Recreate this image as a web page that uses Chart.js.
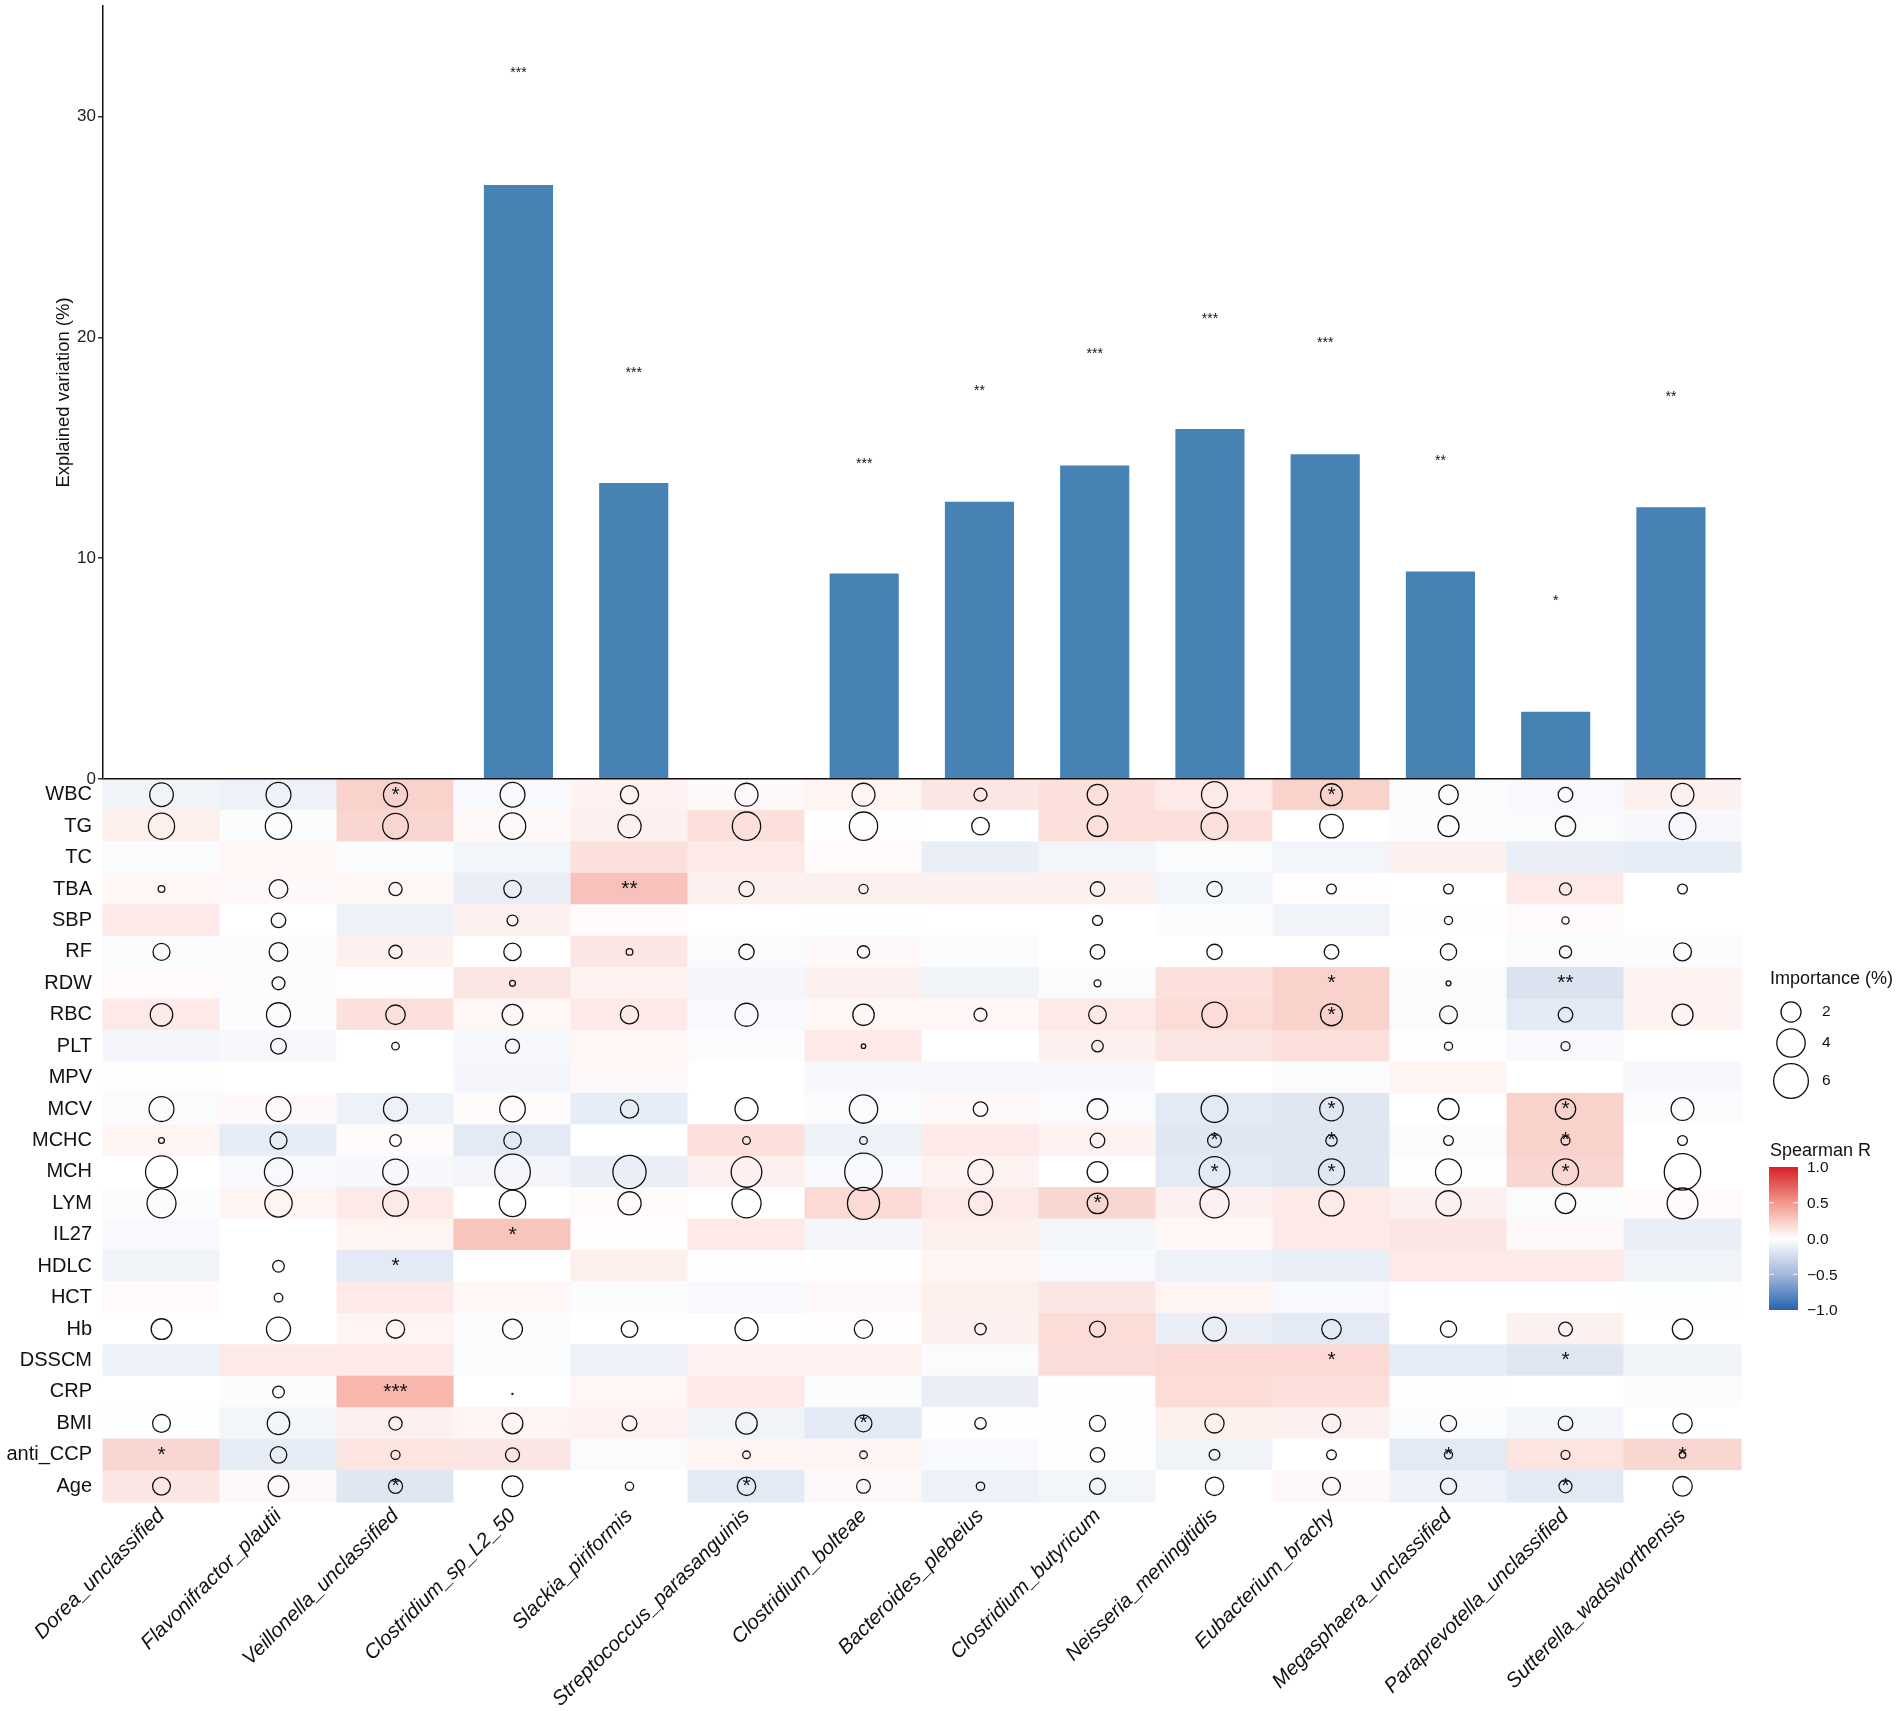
<!DOCTYPE html>
<html>
<head>
<meta charset="utf-8">
<title>Explained variation and Spearman R</title>
<script src="https://cdn.jsdelivr.net/npm/chart.js@4.4.1/dist/chart.umd.min.js"></script>
<style>
  html, body { margin: 0; padding: 0; background: #fff; }
  #wrap { position: relative; width: 1902px; height: 1711px; }
</style>
</head>
<body>
<div id="wrap"><canvas id="chart"></canvas></div>
<script>
// ---- data ----
const species = ['Dorea_unclassified', 'Flavonifractor_plautii', 'Veillonella_unclassified',
  'Clostridium_sp_L2_50', 'Slackia_piriformis', 'Streptococcus_parasanguinis', 'Clostridium_bolteae',
  'Bacteroides_plebeius', 'Clostridium_butyricum', 'Neisseria_meningitidis', 'Eubacterium_brachy',
  'Megasphaera_unclassified', 'Paraprevotella_unclassified', 'Sutterella_wadsworthensis'];

const explained = [0, 0, 0, 26.9, 13.4, 0, 9.3, 12.55, 14.2, 15.85, 14.7, 9.4, 3.05, 12.3];
const barSig = ['', '', '', '***', '***', '', '***', '**', '***', '***', '***', '**', '*', '**'];
const sigY = [null, null, null, 32.1, 18.55, null, 14.4, 17.7, 19.4, 21.0, 19.9, 14.55, 8.2, 17.45];
const yTicks = [0, 10, 20, 30];

const clinical = ['WBC', 'TG', 'TC', 'TBA', 'SBP', 'RF', 'RDW', 'RBC', 'PLT', 'MPV', 'MCV', 'MCHC',
  'MCH', 'LYM', 'IL27', 'HDLC', 'HCT', 'Hb', 'DSSCM', 'CRP', 'BMI', 'anti_CCP', 'Age'];

// Spearman R, one row per clinical variable, columns in species order
const spearmanR = [
  [-0.08, -0.10, 0.22, -0.04, 0.06, 0.03, 0.05, 0.12, 0.15, 0.10, 0.22, -0.02, -0.04, 0.07], // WBC
  [0.08, -0.02, 0.20, 0.03, 0.07, 0.15, 0.01, 0.00, 0.15, 0.15, 0.00, -0.02, -0.03, -0.05],  // TG
  [-0.03, 0.04, -0.02, -0.07, 0.15, 0.10, 0.02, -0.12, -0.07, -0.03, -0.07, 0.07, -0.12, -0.13], // TC
  [0.04, 0.03, 0.04, -0.12, 0.30, 0.07, 0.07, 0.07, 0.07, -0.07, 0.01, 0.00, 0.10, 0.00],   // TBA
  [0.10, 0.00, -0.10, 0.07, 0.02, 0.00, -0.01, 0.00, 0.00, -0.02, -0.08, 0.01, 0.02, 0.00], // SBP
  [-0.03, -0.02, 0.07, 0.00, 0.12, -0.03, 0.03, -0.02, 0.00, 0.00, 0.00, 0.00, -0.03, -0.02], // RF
  [0.02, -0.02, 0.01, 0.12, 0.06, -0.06, 0.07, -0.08, -0.03, 0.15, 0.22, -0.03, -0.20, 0.06], // RDW
  [0.10, -0.02, 0.15, 0.04, 0.10, -0.04, 0.04, 0.04, 0.10, 0.17, 0.22, -0.03, -0.15, 0.06], // RBC
  [-0.06, -0.05, 0.00, -0.05, 0.04, -0.02, 0.10, 0.00, 0.07, 0.12, 0.15, 0.01, -0.04, 0.00], // PLT
  [0.01, 0.00, 0.00, -0.06, 0.03, 0.00, -0.05, -0.05, -0.05, 0.00, -0.03, 0.05, 0.00, -0.05], // MPV
  [-0.03, 0.03, -0.10, 0.02, -0.13, 0.00, -0.03, 0.03, -0.03, -0.15, -0.17, 0.00, 0.22, -0.02], // MCV
  [0.05, -0.13, 0.02, -0.15, 0.00, 0.15, -0.10, 0.10, 0.06, -0.17, -0.17, -0.03, 0.22, 0.00], // MCHC
  [0.00, -0.04, -0.05, -0.06, -0.12, 0.07, -0.04, 0.06, 0.00, -0.15, -0.17, -0.01, 0.20, 0.00], // MCH
  [-0.02, 0.05, 0.10, 0.00, 0.02, 0.00, 0.18, 0.10, 0.20, 0.07, 0.10, 0.07, -0.03, 0.02],  // LYM
  [-0.04, 0.00, 0.05, 0.28, 0.01, 0.10, -0.06, 0.08, -0.07, 0.04, 0.10, 0.12, 0.03, -0.12], // IL27
  [-0.08, 0.00, -0.15, 0.00, 0.08, 0.01, -0.01, 0.05, -0.04, -0.10, -0.12, 0.10, 0.10, -0.08], // HDLC
  [0.02, 0.00, 0.10, 0.04, -0.02, -0.04, 0.03, 0.08, 0.12, 0.05, -0.04, 0.00, 0.00, -0.01], // HCT
  [0.00, 0.00, 0.05, -0.02, 0.00, 0.00, 0.01, 0.07, 0.17, -0.12, -0.15, 0.00, 0.07, 0.00],  // Hb
  [-0.10, 0.10, 0.10, -0.03, -0.10, 0.06, 0.06, -0.03, 0.16, 0.18, 0.18, -0.13, -0.17, -0.08], // DSSCM
  [0.00, -0.02, 0.35, 0.00, 0.04, 0.10, -0.02, -0.12, 0.01, 0.17, 0.15, 0.01, 0.00, -0.02], // CRP
  [-0.01, -0.07, 0.07, 0.05, 0.06, -0.08, -0.15, 0.01, 0.01, 0.08, 0.07, -0.02, -0.07, 0.00], // BMI
  [0.20, -0.13, 0.13, 0.12, -0.03, 0.05, 0.05, -0.04, 0.01, -0.08, 0.00, -0.15, 0.13, 0.20], // anti_CCP
  [0.12, 0.03, -0.17, 0.00, 0.00, -0.15, 0.03, -0.10, -0.07, 0.00, 0.03, -0.10, -0.15, 0.00]  // Age
];

// Importance (%), null = no circle
const importance = [
  [2.77, 3.07, 2.87, 3.07, 1.65, 2.62, 2.62, 0.84, 2.12, 3.37, 2.39, 1.89, 1.06, 2.57], // WBC
  [3.40, 3.45, 3.25, 3.45, 2.67, 3.98, 3.98, 1.54, 2.12, 3.57, 2.75, 2.21, 2.05, 3.57], // TG
  [null, null, null, null, null, null, null, null, null, null, null, null, null, null], // TC
  [0.22, 1.73, 0.87, 1.50, null, 1.16, 0.42, null, 1.05, 1.16, 0.47, 0.47, 0.74, 0.47], // TBA
  [null, 1.04, null, 0.58, null, null, null, null, 0.49, null, null, 0.33, 0.26, null], // SBP
  [1.43, 1.73, 0.87, 1.50, 0.22, 1.16, 0.75, null, 1.05, 1.16, 1.06, 1.31, 0.74, 1.58], // RF
  [null, 0.82, null, 0.17, null, null, null, null, 0.24, null, null, 0.12, null, null], // RDW
  [2.50, 2.87, 1.89, 2.13, 1.65, 2.62, 2.28, 0.84, 1.54, 3.17, 2.39, 1.58, 1.06, 2.21], // RBC
  [null, 1.23, 0.28, 0.98, null, null, 0.10, null, 0.65, null, null, 0.33, 0.40, null], // PLT
  [null, null, null, null, null, null, null, null, null, null, null, null, null, null], // MPV
  [3.07, 3.07, 2.87, 3.25, 1.65, 2.62, 3.98, 1.05, 2.12, 3.57, 2.75, 2.21, 2.05, 2.57], // MCV
  [0.17, 1.43, 0.67, 1.50, null, 0.29, 0.29, null, 1.05, 0.95, 0.64, 0.47, 0.40, 0.47], // MCHC
  [5.06, 3.95, 3.25, 6.30, 5.46, 4.66, 7.00, 3.17, 2.12, 4.66, 3.35, 3.35, 3.35, 6.60], // MCH
  [4.17, 3.70, 3.25, 3.45, 2.67, 4.20, 5.13, 2.80, 2.12, 4.20, 3.15, 3.15, 2.05, 4.70], // LYM
  [null, null, null, null, null, null, null, null, null, null, null, null, null, null], // IL27
  [null, 0.67, null, null, null, null, null, null, null, null, null, null, null, null], // HDLC
  [null, 0.37, null, null, null, null, null, null, null, null, null, null, null, null], // HCT
  [2.13, 2.87, 1.65, 1.97, 1.37, 2.62, 1.68, 0.65, 1.28, 2.80, 1.89, 1.31, 0.95, 2.05], // Hb
  [null, null, null, null, null, null, null, null, null, null, null, null, null, null], // DSSCM
  [null, 0.67, null, null, null, null, null, null, null, null, null, null, null, null], // CRP
  [1.57, 2.50, 0.87, 2.13, 1.10, 2.28, 1.41, 0.65, 1.28, 1.82, 1.73, 1.31, 1.06, 1.89], // BMI
  [null, 1.37, 0.41, 0.98, null, 0.29, 0.29, null, 1.05, 0.57, 0.47, 0.33, 0.40, 0.21], // anti_CCP
  [1.57, 2.13, 0.98, 2.13, 0.34, 1.68, 0.95, 0.35, 1.28, 1.68, 1.58, 1.31, 0.84, 1.89]  // Age
];

// significance marks inside the heatmap: [row, species, mark]
const cellSig = [
  ['WBC', 'Veillonella_unclassified', '*'], ['WBC', 'Eubacterium_brachy', '*'],
  ['TBA', 'Slackia_piriformis', '**'],
  ['RDW', 'Eubacterium_brachy', '*'], ['RDW', 'Paraprevotella_unclassified', '**'],
  ['RBC', 'Eubacterium_brachy', '*'],
  ['MCV', 'Eubacterium_brachy', '*'], ['MCV', 'Paraprevotella_unclassified', '*'],
  ['MCHC', 'Neisseria_meningitidis', '*'], ['MCHC', 'Eubacterium_brachy', '*'], ['MCHC', 'Paraprevotella_unclassified', '*'],
  ['MCH', 'Neisseria_meningitidis', '*'], ['MCH', 'Eubacterium_brachy', '*'], ['MCH', 'Paraprevotella_unclassified', '*'],
  ['LYM', 'Clostridium_butyricum', '*'],
  ['IL27', 'Clostridium_sp_L2_50', '*'],
  ['HDLC', 'Veillonella_unclassified', '*'],
  ['DSSCM', 'Eubacterium_brachy', '*'], ['DSSCM', 'Paraprevotella_unclassified', '*'],
  ['CRP', 'Veillonella_unclassified', '***'], ['CRP', 'Clostridium_sp_L2_50', '.'],
  ['BMI', 'Clostridium_bolteae', '*'],
  ['anti_CCP', 'Dorea_unclassified', '*'], ['anti_CCP', 'Megasphaera_unclassified', '*'], ['anti_CCP', 'Sutterella_wadsworthensis', '*'],
  ['Age', 'Veillonella_unclassified', '*'], ['Age', 'Streptococcus_parasanguinis', '*'], ['Age', 'Paraprevotella_unclassified', '*']
];

const sizeBreaks = [2, 4, 6];
const colorBreaks = [1, 0.5, 0, -0.5, -1];
const colorBreakLabels = ['1.0', '0.5', '0.0', '\u22120.5', '\u22121.0'];

// ---- helpers ----
const FONT = '"Liberation Sans", Arial, Helvetica, sans-serif';
Chart.defaults.font.family = FONT;

const HIGH = [214, 32, 39], MIDHI = [243, 152, 138];
const LOW = [38, 100, 175], MIDLO = [164, 184, 220];
function rColor(r) {
  const t = Math.min(Math.abs(r), 1);
  const mid = r >= 0 ? MIDHI : MIDLO;
  const end = r >= 0 ? HIGH : LOW;
  let c;
  if (t <= 0.5) {
    const k = t / 0.5;
    c = mid.map(m => 255 + (m - 255) * k);
  } else {
    const k = (t - 0.5) / 0.5;
    c = mid.map((m, i) => m + (end[i] - m) * k);
  }
  return 'rgb(' + c.map(Math.round).join(',') + ')';
}

const sizeToRadius = v => 7.1 * Math.sqrt(v);

const bubbles = [];
clinical.forEach((row, i) => {
  species.forEach((sp, j) => {
    const v = importance[i][j];
    if (v != null) bubbles.push({ x: sp, y: row, r: sizeToRadius(v) });
  });
});

// in the source figure the bar panel is a touch narrower than the heatmap,
// so the bars sit on their own (hidden) index axis
const barPoints = explained.map((v, j) => ({ x: j, y: v }));

// tiles of the heatmap, placed with the chart's own scales
const heatmapCells = {
  id: 'heatmapCells',
  beforeDatasetsDraw(chart) {
    const { ctx, scales: { x, hm } } = chart;
    const cw = Math.abs(x.getPixelForValue(1) - x.getPixelForValue(0));
    const ch = Math.abs(hm.getPixelForValue(1) - hm.getPixelForValue(0));
    ctx.save();
    clinical.forEach((row, i) => {
      const cy = hm.getPixelForValue(i);
      species.forEach((sp, j) => {
        const cx = x.getPixelForValue(j);
        ctx.fillStyle = rColor(spearmanR[i][j]);
        ctx.fillRect(cx - cw / 2 - 0.5, cy - ch / 2 - 0.5, cw + 1, ch + 1);
      });
    });
    ctx.restore();
  }
};

const sigLabels = {
  id: 'sigLabels',
  afterDatasetsDraw(chart) {
    const { ctx, scales: { x, xb, y, hm } } = chart;
    ctx.save();
    ctx.fillStyle = '#111';
    ctx.textAlign = 'center';
    ctx.textBaseline = 'middle';
    ctx.font = '14px ' + FONT;
    barSig.forEach((s, j) => {
      if (!s) return;
      ctx.fillText(s, xb.getPixelForValue(j), y.getPixelForValue(sigY[j]) + 3.5);
    });
    ctx.font = '21px ' + FONT;
    cellSig.forEach(([row, sp, s]) => {
      const cx = x.getPixelForValue(species.indexOf(sp));
      const cy = hm.getPixelForValue(clinical.indexOf(row));
      if (s === '.') {
        ctx.textBaseline = 'alphabetic';
        ctx.fillText(s, cx, cy + 3);
        ctx.textBaseline = 'middle';
      } else {
        ctx.fillText(s, cx, cy);
      }
    });
    ctx.restore();
  }
};

const sideLegend = {
  id: 'sideLegend',
  afterDraw(chart) {
    const { ctx, chartArea } = chart;
    const x0 = chartArea.right + 29;
    ctx.save();
    ctx.fillStyle = '#111';
    ctx.textAlign = 'left';
    ctx.textBaseline = 'middle';

    // size legend
    ctx.font = '18px ' + FONT;
    ctx.fillText('Importance (%)', x0, 979);
    const sizeY = [1012, 1043, 1081];
    ctx.font = '15.5px ' + FONT;
    ctx.strokeStyle = '#111';
    ctx.lineWidth = 1.3;
    sizeBreaks.forEach((v, k) => {
      ctx.beginPath();
      ctx.arc(x0 + 21, sizeY[k], sizeToRadius(v), 0, Math.PI * 2);
      ctx.stroke();
      ctx.fillText(String(v), x0 + 52, sizeY[k]);
    });

    // colour bar
    ctx.font = '18px ' + FONT;
    ctx.fillText('Spearman R', x0, 1151);
    const barX = x0 - 1, barW = 29, barTop = 1167, barH = 143;
    const grad = ctx.createLinearGradient(0, barTop, 0, barTop + barH);
    for (let k = 0; k <= 40; k++) {
      grad.addColorStop(k / 40, rColor(1 - 2 * k / 40));
    }
    ctx.fillStyle = grad;
    ctx.fillRect(barX, barTop, barW, barH);
    ctx.strokeStyle = 'rgba(255,255,255,0.9)';
    ctx.lineWidth = 1;
    ctx.fillStyle = '#111';
    ctx.font = '15.5px ' + FONT;
    colorBreaks.forEach((v, k) => {
      const yy = barTop + (1 - v) / 2 * barH;
      if (k > 0 && k < colorBreaks.length - 1) {
        ctx.beginPath();
        ctx.moveTo(barX, yy); ctx.lineTo(barX + 5, yy);
        ctx.moveTo(barX + barW - 5, yy); ctx.lineTo(barX + barW, yy);
        ctx.stroke();
      }
      ctx.fillText(colorBreakLabels[k], barX + barW + 9, yy + 1);
    });
    ctx.restore();
  }
};

new Chart(document.getElementById('chart'), {
  type: 'bar',
  data: {
    labels: species,
    datasets: [
      {
        type: 'bar',
        label: 'Explained variation (%)',
        data: barPoints,
        xAxisID: 'xb',
        yAxisID: 'y',
        backgroundColor: '#4682B4',
        grouped: false,
        barPercentage: 0.6,
        categoryPercentage: 1,
        order: 2
      },
      {
        type: 'bubble',
        label: 'Importance (%)',
        data: bubbles,
        xAxisID: 'x',
        yAxisID: 'hm',
        backgroundColor: 'rgba(0,0,0,0)',
        borderColor: '#111',
        borderWidth: 1.3,
        order: 1
      }
    ]
  },
  options: {
    responsive: true,
    maintainAspectRatio: false,
    animation: false,
    devicePixelRatio: 1,
    events: [],
    layout: { autoPadding: false, padding: { left: 0, right: 161, top: 6, bottom: 0 } },
    plugins: { legend: { display: false }, tooltip: { enabled: false } },
    scales: {
      x: {
        type: 'category',
        offset: true,
        grid: { display: false, drawTicks: false },
        border: { display: false },
        ticks: {
          autoSkip: false, maxRotation: 45, minRotation: 45, padding: 2,
          color: '#111', font: { size: 20.5, style: 'italic' }
        },
        afterFit(s) { s.height = 209; s.paddingLeft = 0; s.paddingRight = 0; }
      },
      xb: {
        type: 'linear',
        display: false,
        offset: false,
        min: -0.605,
        max: 13.608,
        // one tick per bar so the bar width follows the bar spacing
        afterBuildTicks(s) { s.ticks = species.map((sp, j) => ({ value: j })); }
      },
      y: {
        type: 'linear',
        position: 'left',
        stack: 'main',
        stackWeight: 773,
        weight: 2,
        min: 0,
        max: 35,
        afterBuildTicks(s) { s.ticks = yTicks.map(v => ({ value: v })); },
        grid: {
          z: 1,
          color: c => (c.tick && c.tick.value === 0 ? '#111' : 'rgba(0,0,0,0)'),
          lineWidth: 1.5,
          tickColor: '#333',
          tickLength: 5
        },
        border: { display: true, color: '#111', width: 1.5, z: 1 },
        ticks: { color: '#222', padding: 2, font: { size: 17 } },
        title: {
          display: true, text: 'Explained variation (%)', color: '#111',
          font: { size: 18.5 }, padding: { top: 53, bottom: 0 }
        },
        afterFit(s) { s.width = 103; s.paddingTop = 0; s.paddingBottom = 0; }
      },
      hm: {
        type: 'category',
        labels: clinical,
        position: 'left',
        stack: 'main',
        stackWeight: 723,
        weight: 1,
        offset: true,
        grid: { display: false, drawTicks: false },
        border: { display: false },
        ticks: { autoSkip: false, color: '#111', padding: 11, font: { size: 20 } },
        afterFit(s) { s.width = 103; s.paddingTop = 0; s.paddingBottom = 0; }
      }
    }
  },
  plugins: [heatmapCells, sigLabels, sideLegend]
});
</script>
</body>
</html>
